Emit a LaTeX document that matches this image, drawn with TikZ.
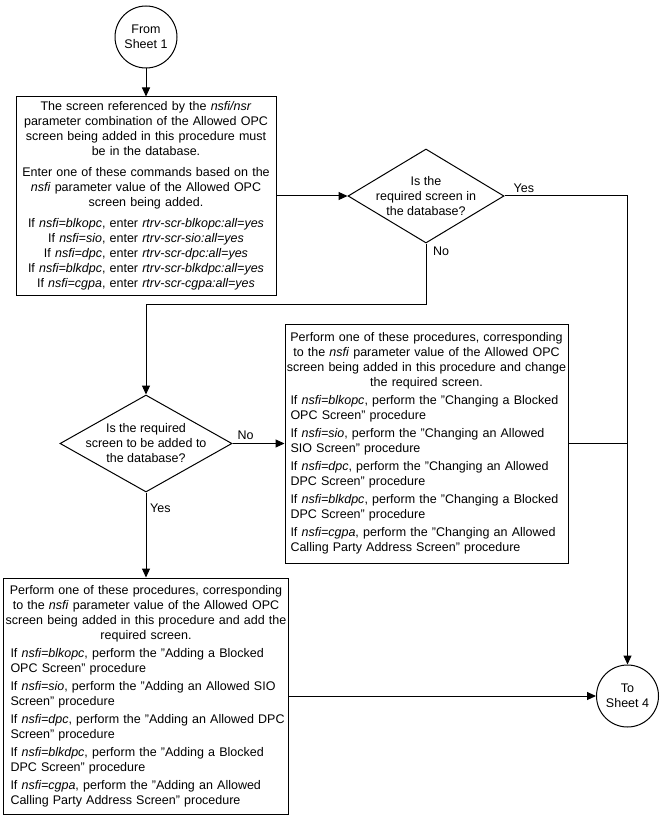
\documentclass[tikz,border=0pt]{standalone}
\usepackage{fontspec}
\setmainfont{Liberation Sans}
\usetikzlibrary{positioning,shapes.geometric,arrows.meta}

\tikzset{
    txt/.style={font=\fontsize{12.5}{15}\selectfont},
    procbox/.style={txt, draw, line width=1pt, rectangle, inner sep=2pt, align=center},
    decision/.style={draw, line width=1pt, diamond, inner sep=0pt},
    question/.style={txt, align=center, inner sep=0pt},
    sheet/.style={txt, draw, line width=1pt, circle, minimum size=62pt, inner sep=0pt, align=center},
    flow/.style={line width=1pt, -{Triangle[length=9pt,width=8pt]}},
    plain/.style={line width=1pt},
    answer/.style={txt, inner sep=1pt},
}

\begin{document}
\begin{tikzpicture}[x=1pt, y=1pt]
        \useasboundingbox (0,0) rectangle (661,-818);

        % Define nodes
        \node[sheet] (from) at (146,-37) {From\\Sheet 1};
        \node[procbox, text width=256pt, minimum height=198pt, below=28pt of from] (screen)
            {The screen referenced by the \textit{nsfi/nsr}\\parameter combination of the Allowed OPC\\screen being added in this procedure must\\be in the database.\par
             \vspace{6pt}
             Enter one of these commands based on the\\\textit{nsfi} parameter value of the Allowed OPC\\screen being added.\par
             \vspace{6pt}
             If \textit{nsfi=blkopc}, enter \textit{rtrv-scr-blkopc:all=yes}\\
             If \textit{nsfi=sio}, enter \textit{rtrv-scr-sio:all=yes}\\
             If \textit{nsfi=dpc}, enter \textit{rtrv-scr-dpc:all=yes}\\
             If \textit{nsfi=blkdpc}, enter \textit{rtrv-scr-blkdpc:all=yes}\\
             If \textit{nsfi=cgpa}, enter \textit{rtrv-scr-cgpa:all=yes}};
        \node[decision, minimum width=156pt, minimum height=94pt, right=71pt of screen,
              label={[question]center:Is the\\required screen in\\the database?}] (inbase) {};
        \node[decision, minimum width=172pt, minimum height=97pt, below=99pt of screen,
              label={[question]center:Is the required\\screen to be added to\\the database?}] (toadd) {};
        \node[procbox, inner sep=0.5pt, text width=282pt, minimum height=239pt, right=52pt of toadd] (change)
            {Perform one of these procedures, corresponding\\to the \textit{nsfi} parameter value of the Allowed OPC\\screen being added in this procedure and change\\the required screen.\par
             \vspace{3pt}
             {\raggedright\leftskip=5pt
             If \textit{nsfi=blkopc}, perform the "Changing a Blocked\\OPC Screen" procedure\\[3pt]
             If \textit{nsfi=sio}, perform the "Changing an Allowed\\SIO Screen" procedure\\[3pt]
             If \textit{nsfi=dpc}, perform the "Changing an Allowed\\DPC Screen" procedure\\[3pt]
             If \textit{nsfi=blkdpc}, perform the "Changing a Blocked\\DPC Screen" procedure\\[3pt]
             If \textit{nsfi=cgpa}, perform the "Changing an Allowed\\Calling Party Address Screen" procedure\par}};
        \node[procbox, text width=281pt, minimum height=236pt, below=85pt of toadd] (add)
            {Perform one of these procedures, corresponding\\to the \textit{nsfi} parameter value of the Allowed OPC\\screen being added in this procedure and add the\\required screen.\par
             \vspace{3pt}
             {\raggedright\leftskip=5pt
             If \textit{nsfi=blkopc}, perform the "Adding a Blocked\\OPC Screen" procedure\\[3pt]
             If \textit{nsfi=sio}, perform the "Adding an Allowed SIO\\Screen" procedure\\[3pt]
             If \textit{nsfi=dpc}, perform the "Adding an Allowed DPC\\Screen" procedure\\[3pt]
             If \textit{nsfi=blkdpc}, perform the "Adding a Blocked\\DPC Screen" procedure\\[3pt]
             If \textit{nsfi=cgpa}, perform the "Adding an Allowed\\Calling Party Address Screen" procedure\par}};
        \node[sheet, right=307pt of add] (to) {To\\Sheet 4};

        % Answer labels
        \node[answer, above right=2pt and 8pt of inbase.east] (yes1) {Yes};
        \node[answer, below right=2pt and 6pt of inbase.south] (no1) {No};
        \node[answer, above right=3pt and 4pt of toadd.east] (no2) {No};
        \node[answer, below right=10pt and 3pt of toadd.south] (yes2) {Yes};

        % Connect the nodes
        \draw[flow] (from) -- (screen);
        \draw[flow] (screen) -- (inbase);
        \draw[flow] (inbase.east) -| (to.north);
        \draw[flow] (inbase.south) -- ++(0,-61) -| (toadd.north);
        \draw[flow] (toadd) -- (change);
        \draw[plain] (change.east) -- (change.east -| to.north);
        \draw[flow] (toadd) -- (add);
        \draw[flow] (add) -- (to);

    \end{tikzpicture}
\end{document}
